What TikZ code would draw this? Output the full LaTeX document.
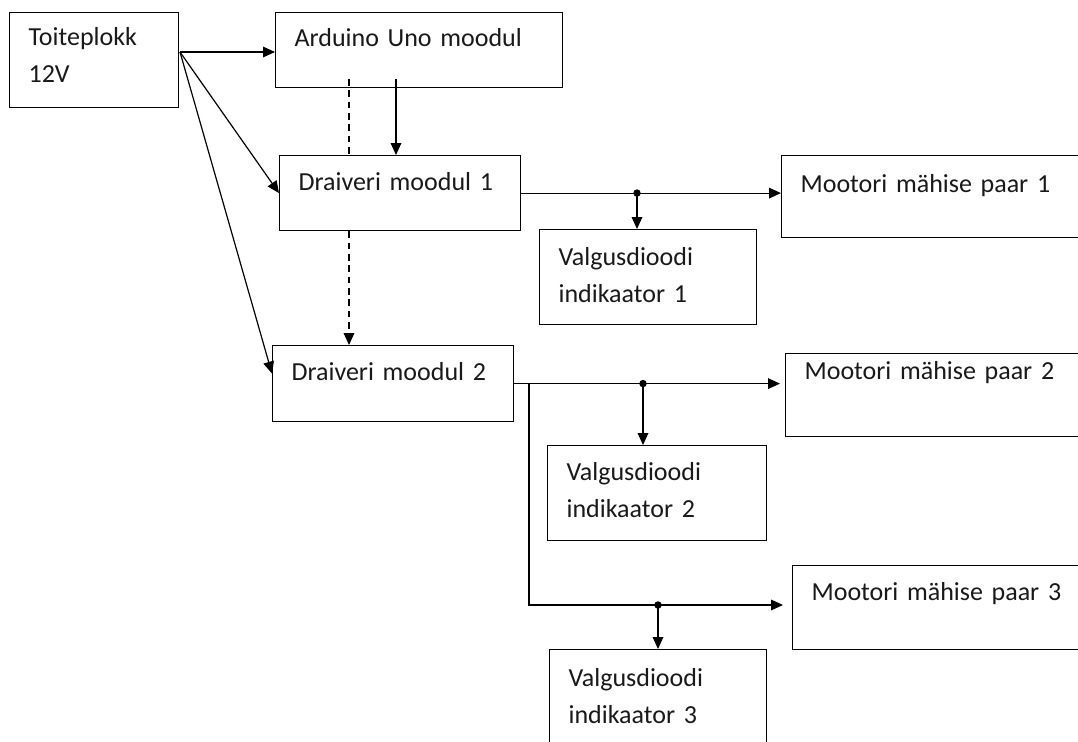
\documentclass[tikz,border=0pt]{standalone}
\usepackage{fontspec}
\setmainfont{Carlito}
\usetikzlibrary{arrows.meta}

\tikzstyle{block}=[draw,line width=0.9pt,anchor=north west,align=left,inner xsep=14.25pt,inner ysep=0pt,text=black!90,font=\fontsize{19.5}{27.75}\selectfont]
\tikzstyle{wire}=[line width=0.9pt,-{Triangle[length=9pt,width=8pt]}]
\tikzstyle{dots}=[line width=0.9pt,dash pattern=on 5pt off 3.5pt]

\begin{document}
\begin{tikzpicture}[x=0.75pt,y=-0.75pt]
        \useasboundingbox (0,0) rectangle (1078,742);
        \clip (0,0) rectangle (1078,742);
        % blocks
        \node[block,text width=98.25pt,text height=24.75pt,text depth=46.5pt] (toite) at (9,12) {Toiteplokk\\12V};
        \node[block,text width=186.75pt,text height=25.5pt,text depth=30.75pt] (ardu) at (275,12) {Arduino Uno moodul};
        \node[block,text width=152.25pt,text height=26.25pt,text depth=30pt] (drv1) at (279,155) {Draiveri moodul 1};
        \node[block,text width=152.25pt,text height=26.25pt,text depth=30.75pt] (drv2) at (272,345) {Draiveri moodul 2};
        \node[block,text width=218.25pt,text height=27.75pt,text depth=33.75pt] (mot1) at (781,155) {Mootori mähise paar 1};
        \node[block,text width=215.25pt,text height=19.5pt,text depth=42.75pt] (mot2) at (785,353) {Mootori mähise paar 2};
        \node[block,text width=210pt,text height=26.25pt,text depth=36.75pt] (mot3) at (792,565) {Mootori mähise paar 3};
        \node[block,text width=134.25pt,text height=27pt,text depth=44.25pt] (val1) at (539,229) {Valgusdioodi\\indikaator 1};
        \node[block,text width=135.75pt,text height=26.25pt,text depth=45pt] (val2) at (547,445) {Valgusdioodi\\indikaator 2};
        \node[block,text width=134.25pt,text height=27.75pt,text depth=44.25pt] (val3) at (549,649) {Valgusdioodi\\indikaator 3};

        % power and control
        \coordinate (src) at (180,52);
        \coordinate (ctl) at (396,79);
        \coordinate (dsh) at (349,79);
        \draw[wire] (src) -- (src -| ardu.west);
        \draw[wire] (src) -- (drv1.west);
        \draw[wire] (src) -- ([yshift=7.5pt]drv2.west);
        \draw[wire] (ctl) -- (ctl |- drv1.north);
        \draw[dots] (dsh) -- (dsh |- drv1.north);
        \draw[dots,wire] (dsh |- drv1.south) -- (dsh |- drv2.north);

        % outputs
        \coordinate (j1) at (drv1.east -| 637,0);
        \coordinate (j2) at (drv2.east -| 643,0);
        \coordinate (bend) at (529,605);
        \coordinate (j3) at (bend -| 658,0);
        \draw[wire] (drv1.east) -- (drv1.east -| mot1.west);
        \draw[wire] (j1) -- (j1 |- val1.north);
        \draw[wire,shorten >=3.75pt] (drv2.east) -- (drv2.east -| mot2.west);
        \draw[wire] (j2) -- (j2 |- val2.north);
        \draw[wire,shorten >=6.75pt] (drv2.east) -| (bend) -- (bend -| mot3.west);
        \draw[wire] (j3) -- (j3 |- val3.north);
        \fill (j1) circle (2.8pt) (j2) circle (2.8pt) (j3) circle (2.8pt);
\end{tikzpicture}
\end{document}
